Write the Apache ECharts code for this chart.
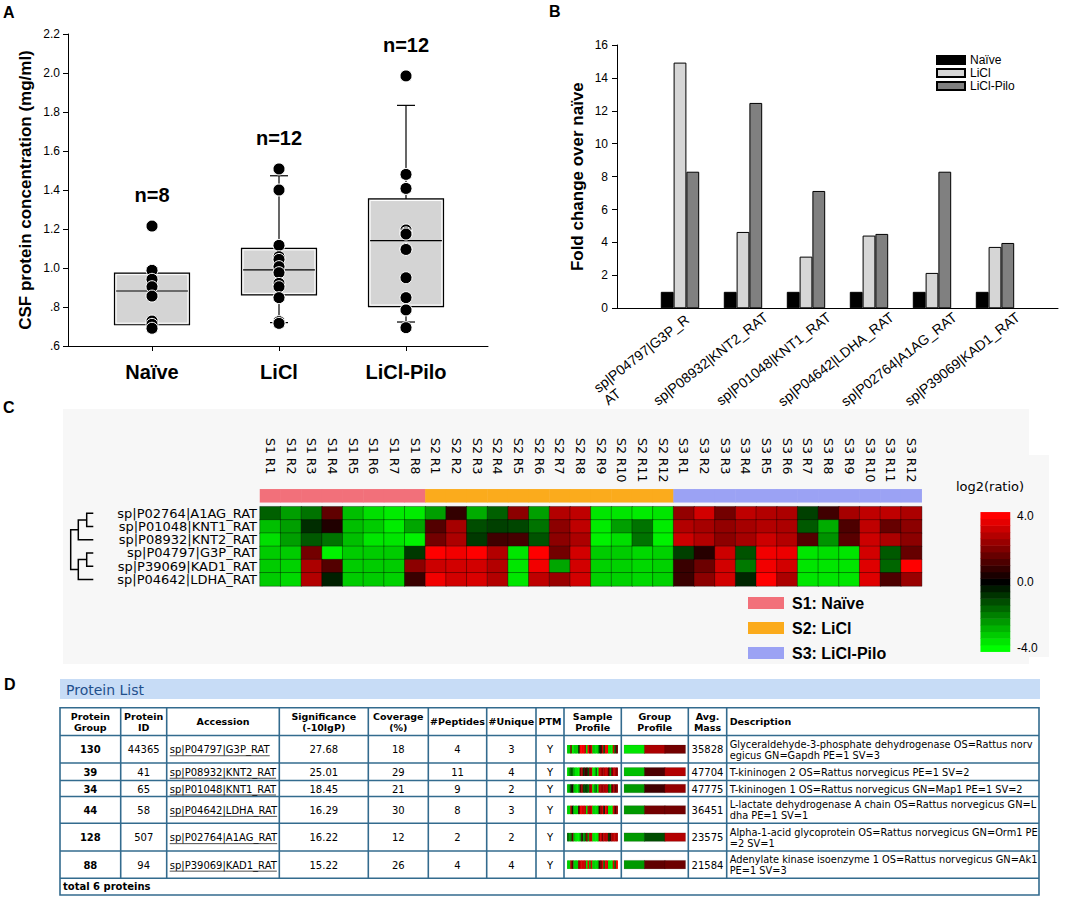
<!DOCTYPE html>
<html><head><meta charset="utf-8">
<script src="https://cdn.jsdelivr.net/npm/echarts@6/dist/echarts.min.js"></script>
<style>html,body{margin:0;padding:0;background:#fff;} #c{width:1084px;height:897px;}</style>
</head><body><div id="c"></div>
<script>
// ---------------- Panel A data ----------------
const aGroups = ['Naïve', 'LiCl', 'LiCl-Pilo'];
const aNaivePoints = [1.215, 0.988, 0.942, 0.904, 0.856, 0.728, 0.711, 0.691];
const aLiclPoints = [1.508, 1.400, 1.116, 1.058, 1.044, 1.007, 0.976, 0.921, 0.904, 0.848, 0.725, 0.716];
const aPiloPoints = [1.985, 1.480, 1.408, 1.195, 1.180, 1.174, 1.099, 1.095, 0.950, 0.848, 0.785, 0.694];
const aQ1 = [0.709, 0.862, 0.802];
const aMedian = [0.882, 0.990, 1.140];
const aQ3 = [0.974, 1.101, 1.354];
const aWhiskerLow = ['-', 0.720, 0.723];
const aWhiskerHigh = ['-', 1.473, 1.834];

// ---------------- Panel B data ----------------
const bProteins = ['sp|P04797|G3P_R\nAT', 'sp|P08932|KNT2_RAT', 'sp|P01048|KNT1_RAT', 'sp|P04642|LDHA_RAT', 'sp|P02764|A1AG_RAT', 'sp|P39069|KAD1_RAT'];
const bSeriesNames = ['Naïve', 'LiCl', 'LiCl-Pilo'];
const bNaive = [1, 1, 1, 1, 1, 1];
const bLicl = [14.93, 4.64, 3.14, 4.42, 2.15, 3.73];
const bPilo = [8.30, 12.48, 7.13, 4.52, 8.30, 3.97];

// ---------------- Panel C data ----------------
const cSamples = ['S1 R1','S1 R2','S1 R3','S1 R4','S1 R5','S1 R6','S1 R7','S1 R8',
  'S2 R1','S2 R2','S2 R3','S2 R4','S2 R5','S2 R6','S2 R7','S2 R8','S2 R9','S2 R10','S2 R11','S2 R12',
  'S3 R1','S3 R2','S3 R3','S3 R4','S3 R5','S3 R6','S3 R7','S3 R8','S3 R9','S3 R10','S3 R11','S3 R12'];
const cProteins = ['sp|P02764|A1AG_RAT', 'sp|P01048|KNT1_RAT', 'sp|P08932|KNT2_RAT', 'sp|P04797|G3P_RAT', 'sp|P39069|KAD1_RAT', 'sp|P04642|LDHA_RAT'];
const cA1AG = [-1.5,-2.5,-1.8,1.5,-3.0,-3.5,-3.7,-3.7, -2.5,0.8,-2.7,-1.5,2.2,-2.5,2.8,3.0,-3.6,-3.6,-3.7,-3.6, 2.3,3.3,1.8,3.0,2.8,2.7,-1.0,1.0,2.6,3.0,3.0,2.7];
const cKNT1 = [-3.0,-2.5,-0.7,0.5,-3.0,-3.2,-3.7,-2.6, 1.3,2.6,-1.2,-1.0,-1.1,-1.8,2.2,3.0,-3.7,-2.5,-1.8,-3.7, 2.8,2.6,2.3,2.6,2.8,2.7,-1.4,-2.7,1.2,3.0,1.6,2.2];
const cKNT2 = [-3.5,-2.5,-1.4,-1.8,-3.0,-3.6,-3.6,-3.8, 1.8,2.7,-0.9,1.0,1.1,-1.3,2.2,2.7,-3.8,-3.5,-1.8,-3.8, 3.2,2.8,2.2,2.6,3.2,2.8,1.3,-2.3,1.4,3.2,2.7,2.2];
const cG3P = [-3.2,-3.2,1.8,-3.8,-3.2,-3.2,-3.2,-0.9, 4.0,3.8,4.0,2.8,-3.6,4.0,1.8,3.3,-3.2,-3.2,-3.4,-3.3, -1.0,0.6,3.2,-1.3,3.8,3.7,-3.6,-3.5,-3.6,3.3,-1.4,1.6];
const cKAD1 = [-3.2,-3.3,2.7,1.3,-3.2,-3.2,-3.2,2.2, 3.2,3.3,3.3,2.8,-3.6,3.8,-2.6,3.3,-3.3,-3.3,-3.4,-3.3, 0.9,1.7,3.3,-1.9,3.8,3.3,-3.6,-3.6,-3.6,3.5,-1.6,4.0];
const cLDHA = [-3.2,-3.4,2.8,-0.5,-3.2,-3.2,-3.3,0.9, 3.8,3.3,3.4,2.8,-3.6,3.0,2.4,3.3,-3.3,-3.3,-3.4,-3.3, 0.9,2.2,3.3,-0.6,4.0,2.7,-3.6,-3.6,-3.6,3.5,1.2,2.4];
const cGroupNames = ['S1: Naïve', 'S2: LiCl', 'S3: LiCl-Pilo'];
const cColorbarSteps = [-4,-3.6,-3.2,-2.8,-2.4,-2,-1.6,-1.2,-0.8,-0.4,0,0.4,0.8,1.2,1.6,2,2.4,2.8,3.2,3.6,4];
const cColorbarLabels = [-4, 0, 4];
// dendrogram merges: [childA, childB, height]  (r = row leaf, m = earlier merge)
const cDendroMerges = [['r0','r1',6.6], ['r3','r4',6.6], ['m0','r2',15], ['m1','r5',15], ['m2','m3',22.6]];

// ---------------- Panel D data ----------------
const tHeaders = ['Protein\nGroup','Protein\nID','Accession','Significance\n(-10lgP)','Coverage\n(%)','#Peptides','#Unique','PTM','Sample\nProfile','Group\nProfile','Avg.\nMass','Description'];
const tGroup = [130, 39, 34, 44, 128, 88];
const tId = [44365, 41, 65, 58, 507, 94];
const tAccession = ['sp|P04797|G3P_RAT','sp|P08932|KNT2_RAT','sp|P01048|KNT1_RAT','sp|P04642|LDHA_RAT','sp|P02764|A1AG_RAT','sp|P39069|KAD1_RAT'];
const tSignificance = ['27.68','25.01','18.45','16.29','16.22','15.22'];
const tCoverage = [18, 29, 21, 30, 12, 26];
const tPeptides = [4, 11, 9, 8, 2, 4];
const tUnique = [3, 4, 2, 3, 2, 4];
const tPTM = ['Y','Y','Y','Y','Y','Y'];
const tMass = [35828, 47704, 47775, 36451, 23575, 21584];
const tDescription = [
  'Glyceraldehyde-3-phosphate dehydrogenase OS=Rattus norv\negicus GN=Gapdh PE=1 SV=3',
  'T-kininogen 2 OS=Rattus norvegicus PE=1 SV=2',
  'T-kininogen 1 OS=Rattus norvegicus GN=Map1 PE=1 SV=2',
  'L-lactate dehydrogenase A chain OS=Rattus norvegicus GN=L\ndha PE=1 SV=1',
  'Alpha-1-acid glycoprotein OS=Rattus norvegicus GN=Orm1 PE\n=2 SV=1',
  'Adenylate kinase isoenzyme 1 OS=Rattus norvegicus GN=Ak1\nPE=1 SV=3'];
const tGroupProfile = [[-3.6, 2.7, 1.8], [-3.0, 1.2, 2.8], [-2.4, 1.0, 2.3], [-2.4, 1.8, 1.8], [-2.4, -1.2, 2.8], [-2.4, 1.5, 1.7]];
const tFooter = 'total 6 proteins';

// ---------------- layout / style ----------------
const ARIAL = '"Liberation Sans", Arial, Helvetica, sans-serif';
const DEJAVU = '"DejaVu Sans", Verdana, sans-serif';
const BLACK = '#000';
const cMatrix = [cA1AG, cKNT1, cKNT2, cG3P, cKAD1, cLDHA];
const cGroupColors = ['#f2707a', '#fbab1c', '#9ba2f4'];

const grids = [], xAxes = [], yAxes = [], series = [];
function addGrid(g, xa, ya) {
  const i = grids.length;
  grids.push(Object.assign({containLabel: false}, g));
  xAxes.push(Object.assign({gridIndex: i}, xa));
  yAxes.push(Object.assign({gridIndex: i}, ya));
  return i;
}
const hidden = {show: false};

// ---- Panel A ----
addGrid({left: 68, top: 34, width: 420, height: 312},
  {type: 'value', min: 0, max: 1, axisLine: {show: true, lineStyle: {color: BLACK, width: 1}}, axisTick: hidden, axisLabel: hidden, splitLine: hidden},
  {type: 'value', min: 0.6, max: 2.2, interval: 0.2,
   axisLine: {show: true, lineStyle: {color: BLACK, width: 1}},
   axisTick: {show: true, length: 5, lineStyle: {color: BLACK}},
   axisLabel: {color: BLACK, fontSize: 12, fontFamily: ARIAL, margin: 8,
     formatter: v => { const s = v.toFixed(1); return v < 1 ? s.replace(/^0/, '') : s; }},
   splitLine: hidden,
   name: 'CSF protein concentration (mg/ml)', nameLocation: 'middle', nameGap: 34,
   nameTextStyle: {fontSize: 17, fontWeight: 'bold', color: BLACK, fontFamily: ARIAL}});
const gA = addGrid({left: 88.5, top: 34, width: 381, height: 312},
  {type: 'category', data: aGroups, axisLine: hidden,
   axisTick: {show: true, alignWithLabel: true, length: 5, lineStyle: {color: BLACK}},
   axisLabel: {color: BLACK, fontSize: 20, fontWeight: 'bold', fontFamily: ARIAL, margin: 16}},
  {type: 'value', min: 0.6, max: 2.2, show: false});

function renderBox(params, api) {
  const i = api.value(0);
  const cx = api.coord([i, 1])[0];
  const Y = v => api.coord([i, v])[1];
  const half = 37.5, cap = 9;
  const q1 = Y(api.value(1)), md = Y(api.value(2)), q3 = Y(api.value(3));
  const lo = api.value(4), hi = api.value(5);
  const ln = {stroke: BLACK, lineWidth: 1.2};
  const ch = [];
  if (!isNaN(hi)) {
    ch.push({type: 'line', shape: {x1: cx, y1: q3, x2: cx, y2: Y(hi)}, style: ln});
    ch.push({type: 'line', shape: {x1: cx - cap, y1: Y(hi), x2: cx + cap, y2: Y(hi)}, style: ln});
  }
  if (!isNaN(lo)) {
    ch.push({type: 'line', shape: {x1: cx, y1: q1, x2: cx, y2: Y(lo)}, style: ln});
    ch.push({type: 'line', shape: {x1: cx - cap, y1: Y(lo), x2: cx + cap, y2: Y(lo)}, style: ln});
  }
  ch.push({type: 'rect', shape: {x: cx - half, y: q3, width: 2 * half, height: q1 - q3}, style: {fill: '#d4d4d4', stroke: BLACK, lineWidth: 1.2}});
  ch.push({type: 'rect', shape: {x: cx - half + 1.6, y: q3 + 1.6, width: 2 * half - 3.2, height: q1 - q3 - 3.2}, style: {fill: 'none', stroke: '#fff', lineWidth: 1}});
  ch.push({type: 'line', shape: {x1: cx - half + 1.6, y1: md, x2: cx + half - 1.6, y2: md}, style: ln});
  return {type: 'group', children: ch};
}
series.push({type: 'custom', name: 'A boxes', xAxisIndex: gA, yAxisIndex: gA, renderItem: renderBox, z: 2,
  encode: {x: 0, y: [1, 2, 3, 4, 5]},
  data: aGroups.map((g, i) => [i, aQ1[i], aMedian[i], aQ3[i], aWhiskerLow[i], aWhiskerHigh[i]])});
const aAllPoints = [aNaivePoints, aLiclPoints, aPiloPoints];
series.push({type: 'scatter', name: 'A points', xAxisIndex: gA, yAxisIndex: gA, z: 4, symbolSize: 12,
  itemStyle: {color: BLACK, borderColor: '#fff', borderWidth: 1, opacity: 1},
  data: aAllPoints.flatMap((pts, i) => pts.map(v => [i, v]))});
series.push({type: 'scatter', name: 'A n', xAxisIndex: gA, yAxisIndex: gA, z: 5, symbolSize: 0,
  itemStyle: {opacity: 1, color: BLACK},
  label: {show: true, position: 'top', distance: 21, color: BLACK, opacity: 1, fontSize: 20, fontWeight: 'bold', fontFamily: ARIAL,
    formatter: p => 'n=' + aAllPoints[p.data[0]].length},
  data: aAllPoints.map((pts, i) => [i, Math.max(...pts)])});

// ---- Panel B ----
const bCats = [''].concat(bProteins, ['']);
const gB = addGrid({left: 617, top: 45, width: 441, height: 263.3},
  {type: 'category', data: bCats, boundaryGap: false, axisLine: {show: true, lineStyle: {color: BLACK, width: 1}}, axisTick: hidden, axisLabel: hidden, splitLine: hidden},
  {type: 'value', min: 0, max: 16, interval: 2,
   axisLine: {show: true, lineStyle: {color: BLACK, width: 1}},
   axisTick: {show: true, length: 5, lineStyle: {color: BLACK}},
   axisLabel: {color: BLACK, fontSize: 12, fontFamily: ARIAL, margin: 9},
   splitLine: hidden,
   name: 'Fold change over naïve', nameLocation: 'middle', nameGap: 31,
   nameTextStyle: {fontSize: 17, fontWeight: 'bold', color: BLACK, fontFamily: ARIAL}});
addGrid({left: 640, top: 45, width: 441, height: 263.3},
  {type: 'category', data: bCats, boundaryGap: false, axisLine: hidden, axisTick: hidden, splitLine: hidden,
   axisLabel: {show: true, interval: 0, rotate: 38, margin: 7, color: BLACK, fontSize: 14, fontFamily: ARIAL, hideOverlap: false,
     formatter: v => {
       if (v.indexOf('\n') < 0) return v;
       const parts = v.split('\n');
       return '{a|' + parts[0] + '}{s| }\n{b|' + parts[1] + '}{f| }';
     },
     rich: {a: {fontSize: 14, fontFamily: ARIAL, color: BLACK, lineHeight: 16, align: 'left'},
            b: {fontSize: 14, fontFamily: ARIAL, color: BLACK, lineHeight: 16, align: 'left'},
            s: {width: 14, fontSize: 14, align: 'left'},
            f: {fontSize: 14, align: 'right'}}}},
  {type: 'value', show: false});
const bValues = [bNaive, bLicl, bPilo];
const bColors = ['#000000', '#d6d6d6', '#808080'];
bSeriesNames.forEach((nm, k) => {
  series.push({type: 'bar', name: nm, xAxisIndex: gB, yAxisIndex: gB, barWidth: 12.8, barGap: '0%',
    itemStyle: {color: bColors[k], borderColor: BLACK, borderWidth: 1},
    data: ['-'].concat(bValues[k], ['-'])});
});

// ---- Panel C ----
const gDen = addGrid({left: 70.7, top: 506.7, width: 22.6, height: 79.3},
  {type: 'value', min: 0, max: 22.6, inverse: true, show: false},
  {type: 'value', min: -0.5, max: 5.5, inverse: true, show: false});
const gHeat = addGrid({left: 260, top: 506.7, width: 661.7, height: 79.3},
  {type: 'category', data: cSamples, axisLine: hidden, axisTick: hidden, axisLabel: hidden, splitArea: hidden},
  {type: 'category', data: cProteins, inverse: true, axisLine: hidden, axisTick: hidden, splitArea: hidden,
   axisLabel: {interval: 0, color: BLACK, fontSize: 13, lineHeight: 13, fontFamily: DEJAVU, margin: 3, hideOverlap: false}});
// sample label strip (axis at y = 438, labels hanging downwards)
addGrid({left: 260, top: 420, width: 661.7, height: 18},
  {type: 'category', data: cSamples, position: 'bottom', axisLine: hidden, axisTick: hidden, splitArea: hidden,
   axisLabel: {interval: 0, rotate: -90, margin: 0, color: BLACK, fontSize: 12.5, fontFamily: DEJAVU, hideOverlap: false}},
  {type: 'value', show: false});
const gGroupBar = addGrid({left: 260, top: 489.3, width: 661.7, height: 13},
  {type: 'category', data: cSamples, show: false}, {type: 'category', data: ['group'], show: false});
const gBar = addGrid({left: 980.7, top: 512.3, width: 29.3, height: 139.4},
  {type: 'category', data: ['scale'], show: false},
  {type: 'category', data: cColorbarSteps.map(String), position: 'right', axisLine: hidden, axisTick: hidden,
   axisLabel: {interval: (i, v) => cColorbarLabels.indexOf(Number(v)) >= 0, formatter: v => Number(v).toFixed(1),
     margin: 7, color: BLACK, fontSize: 12, fontFamily: ARIAL}});

// dendrogram
const dPos = {};
cProteins.forEach((p, i) => { dPos['r' + i] = [0, i]; });
const dLines = cDendroMerges.map(([a, b, h], k) => {
  const A = dPos[a], B = dPos[b];
  dPos['m' + k] = [h, (A[1] + B[1]) / 2];
  return {coords: [[A[0], A[1]], [h, A[1]], [h, B[1]], [B[0], B[1]]]};
});
series.push({type: 'lines', name: 'dendrogram', coordinateSystem: 'cartesian2d', xAxisIndex: gDen, yAxisIndex: gDen,
  polyline: true, silent: true, lineStyle: {color: BLACK, width: 1.5, opacity: 1}, data: dLines});

const vmSeries = [];
vmSeries.push(series.length);
series.push({type: 'heatmap', name: 'log2 ratio', xAxisIndex: gHeat, yAxisIndex: gHeat,
  itemStyle: {borderColor: 'rgba(0,0,0,0.35)', borderWidth: 1}, emphasis: {disabled: true},
  data: cMatrix.flatMap((row, r) => row.map((v, c) => [c, r, v]))});
cGroupNames.forEach((nm, g) => {
  series.push({type: 'heatmap', name: nm, xAxisIndex: gGroupBar, yAxisIndex: gGroupBar,
    itemStyle: {color: cGroupColors[g]}, emphasis: {disabled: true},
    data: cSamples.map((s, c) => [c, 0, Number(s[1]) - 1]).filter(d => d[2] === g)});
});
vmSeries.push(series.length);
series.push({type: 'heatmap', name: 'colorbar', xAxisIndex: gBar, yAxisIndex: gBar, emphasis: {disabled: true},
  data: cColorbarSteps.map((v, i) => [0, i, v])});

// ---- Panel D table profiles ----
const colEdges = [60, 120.7, 166.7, 279.3, 368.3, 428.3, 486.7, 536, 564, 621.3, 688.3, 726.7, 1039];
const rowEdges = [707.7, 735.5, 763, 780.5, 796.5, 823.3, 851, 878.3, 895];
tAccession.forEach((acc, r) => {
  const cy = (rowEdges[r + 1] + rowEdges[r + 2]) / 2;
  const row = cMatrix[cProteins.indexOf(acc)];
  const gs = addGrid({left: 567.3, top: cy - 4, width: 50.4, height: 8},
    {type: 'category', data: cSamples, show: false}, {type: 'category', data: ['p'], show: false});
  vmSeries.push(series.length);
  series.push({type: 'heatmap', name: 'sample profile ' + acc, xAxisIndex: gs, yAxisIndex: gs, emphasis: {disabled: true},
    data: row.map((v, c) => [c, 0, v])});
});
tAccession.forEach((acc, r) => {
  const cy = (rowEdges[r + 1] + rowEdges[r + 2]) / 2;
  const gg = addGrid({left: 624.3, top: cy - 4, width: 61, height: 8},
    {type: 'category', data: ['S1', 'S2', 'S3'], show: false}, {type: 'category', data: ['p'], show: false});
  vmSeries.push(series.length);
  series.push({type: 'heatmap', name: 'group profile ' + acc, xAxisIndex: gg, yAxisIndex: gg, emphasis: {disabled: true},
    itemStyle: {borderColor: 'rgba(0,0,0,0.25)', borderWidth: 0.5},
    data: tGroupProfile[r].map((v, c) => [c, 0, v])});
});

// ---------------- graphics ----------------
const els = [];
const panelLetter = (t, x, y) => els.push({type: 'text', x, y, z: 50, style: {text: t, fill: BLACK, font: 'bold 16px ' + ARIAL}});
panelLetter('A', 3, 4); panelLetter('B', 549, 3); panelLetter('C', 3, 399); panelLetter('D', 4, 676);
els.push({type: 'rect', z: -5, silent: true, shape: {x: 63, y: 409, width: 966, height: 255}, style: {fill: '#f7f7f7'}});
els.push({type: 'rect', z: -5, silent: true, shape: {x: 960, y: 455, width: 89, height: 202}, style: {fill: '#f7f7f7'}});
els.push({type: 'text', z: 50, x: 990, y: 486, style: {text: 'log2(ratio)', fill: BLACK, font: '13px ' + DEJAVU, align: 'center', verticalAlign: 'middle'}});

// table
const TB = '#336b8e';
const measure = (() => { const cv = document.createElement('canvas').getContext('2d'); return (txt, font) => { cv.font = font; return cv.measureText(txt).width; }; })();
els.push({type: 'rect', z: 1, shape: {x: 60, y: 679, width: 980, height: 20}, style: {fill: '#c7dcf6'}});
els.push({type: 'text', z: 2, x: 66, y: 689.5, style: {text: 'Protein List', fill: '#1f4f8c', font: '14px ' + DEJAVU, verticalAlign: 'middle'}});
const tTop = rowEdges[0], tBot = rowEdges[rowEdges.length - 1], tDataBot = rowEdges[rowEdges.length - 2];
const L = colEdges[0], R = colEdges[colEdges.length - 1];
els.push({type: 'rect', z: 3, shape: {x: L, y: tTop, width: R - L, height: tBot - tTop}, style: {fill: 'none', stroke: TB, lineWidth: 1.6}});
for (let i = 1; i < rowEdges.length - 1; i++)
  els.push({type: 'line', z: 3, shape: {x1: L, y1: rowEdges[i], x2: R, y2: rowEdges[i]}, style: {stroke: TB, lineWidth: 1.6}});
for (let j = 1; j < colEdges.length - 1; j++)
  els.push({type: 'line', z: 3, shape: {x1: colEdges[j], y1: tTop, x2: colEdges[j], y2: tDataBot}, style: {stroke: TB, lineWidth: 1.6}});
const leftCols = [2, 11];
const HFONT = 'bold 9.5px ' + DEJAVU;
tHeaders.forEach((h, j) => {
  const isLeft = j === 11;
  els.push({type: 'text', z: 4, x: isLeft ? colEdges[j] + 3 : (colEdges[j] + colEdges[j + 1]) / 2, y: (rowEdges[0] + rowEdges[1]) / 2,
    style: {text: h, fill: BLACK, font: HFONT, lineHeight: 11, align: isLeft ? 'left' : 'center', verticalAlign: 'middle'}});
});
const BFONT = '10px ' + DEJAVU;
tAccession.forEach((acc, r) => {
  const cells = [String(tGroup[r]), String(tId[r]), acc, tSignificance[r], String(tCoverage[r]), String(tPeptides[r]),
    String(tUnique[r]), tPTM[r], '', '', String(tMass[r]), tDescription[r]];
  const cy = (rowEdges[r + 1] + rowEdges[r + 2]) / 2;
  cells.forEach((txt, j) => {
    if (!txt) return;
    const isLeft = leftCols.indexOf(j) >= 0;
    const font = j === 0 ? 'bold 10px ' + DEJAVU : (j === 11 ? '9.8px ' + DEJAVU : BFONT);
    const x = isLeft ? colEdges[j] + 3 : (colEdges[j] + colEdges[j + 1]) / 2;
    els.push({type: 'text', z: 4, x, y: cy + 0.5, style: {text: txt, fill: BLACK, font, lineHeight: 11, align: isLeft ? 'left' : 'center', verticalAlign: 'middle'}});
    if (j === 2) {
      const w = measure(txt, font);
      els.push({type: 'line', z: 4, shape: {x1: x, y1: cy + 6.5, x2: x + w, y2: cy + 6.5}, style: {stroke: '#222', lineWidth: 0.8}});
    }
  });
});
els.push({type: 'text', z: 4, x: L + 3, y: (rowEdges[7] + rowEdges[8]) / 2, style: {text: tFooter, fill: BLACK, font: 'bold 10px ' + DEJAVU, verticalAlign: 'middle'}});

const option = {
  animation: false,
  backgroundColor: '#ffffff',
  textStyle: {fontFamily: ARIAL},
  grid: grids, xAxis: xAxes, yAxis: yAxes,
  visualMap: [{type: 'continuous', show: false, min: -4, max: 4, seriesIndex: vmSeries, inRange: {color: ['#00ff00', '#000000', '#ff0000']}}],
  legend: [
    {data: bSeriesNames, left: 936, top: 54, orient: 'vertical', itemWidth: 28, itemHeight: 8, itemGap: 1, padding: 0,
     icon: 'rect', textStyle: {fontSize: 12, color: BLACK, fontFamily: ARIAL}, selectedMode: false},
    {data: cGroupNames, left: 748, top: 595, orient: 'vertical', itemWidth: 36, itemHeight: 12, itemGap: 9, padding: 0,
     icon: 'rect', textStyle: {fontSize: 16, fontWeight: 'bold', color: BLACK, fontFamily: ARIAL, padding: [0, 0, 0, 3]}, selectedMode: false}
  ],
  graphic: {elements: els},
  series
};
const chart = echarts.init(document.getElementById('c'), null, {renderer: 'svg', width: 1084, height: 897});
chart.setOption(option);
</script>
</body></html>
